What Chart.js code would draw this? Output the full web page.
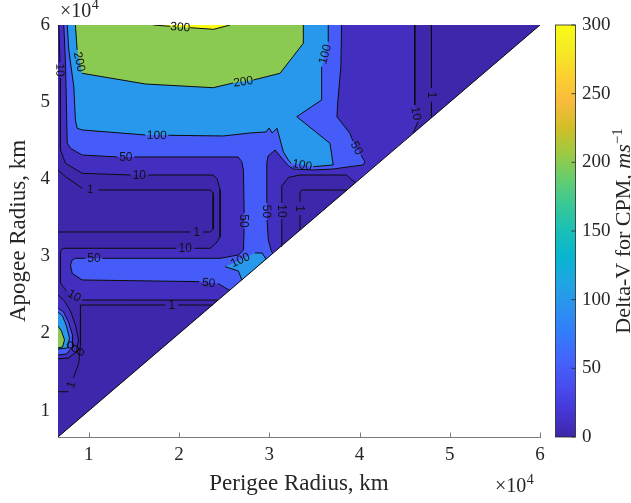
<!DOCTYPE html>
<html lang="en">
<head>
<meta charset="UTF-8">
<title>Delta-V for CPM</title>
<script src="https://cdn.jsdelivr.net/npm/chart.js"></script>
<style>
  html, body { margin: 0; padding: 0; background: #fff; }
  canvas { display: block; }
</style>
</head>
<body>
<canvas id="chart" width="631" height="503"></canvas>
<script>
// axis limits and ticks, in units of 10^4 km
const XMIN = 0.6578;
const XMAX = 6;
const xTicks = [1, 2, 3, 4, 5, 6];
const yTicks = [1, 2, 3, 4, 5, 6];
const cbTicks = [0, 50, 100, 150, 200, 250, 300];
const CB_MAX = 300;

// contour regions, [perigee, apogee] in 10^4 km
const lowLeft10 = [
  [0.6578, 6], [0.667, 6], [0.680, 5.520], [0.683, 5.313], [0.6855, 4.379], [0.741, 4.207], [0.926, 4.077],
  [1.460, 4.055], [1.659, 4.055], [2.378, 4.055], [2.422, 4.003], [2.455, 3.861], [2.455, 3.251], [2.411, 3.173],
  [2.345, 3.105], [2.168, 3.105], [1.969, 3.105], [0.708, 3.105], [0.6855, 3.057], [0.6855, 2.655], [0.752, 2.551],
  [0.926, 2.434], [2.433, 2.433], [0.6578, 0.6578], [0.6578, 6]
];
const lowRight10 = [
  [3.130, 3.130], [3.138, 3.485], [3.138, 3.692], [3.138, 3.9125], [3.211, 4.023], [3.340, 4.055],
  [3.857, 4.055], [3.915, 3.990], [3.959, 3.959], [3.130, 3.130]
];
const lowFar10 = [[4.612, 6], [4.612, 4.963], [4.645, 4.742], [4.595, 4.595], [6, 6], [4.612, 6]];
const band50 = [
  [0.722, 6], [0.741, 5.507], [0.760, 4.470], [0.796, 4.401], [0.926, 4.314], [1.316, 4.289], [1.504, 4.289], [2.654, 4.289],
  [2.695, 4.228], [2.713, 4.120], [2.721, 3.562], [2.721, 3.355], [2.713, 3.083], [2.658, 3.018], [2.455, 2.975], [1.150, 2.975],
  [0.962, 2.975], [0.851, 2.975], [0.815, 2.953], [0.796, 2.888], [0.815, 2.780], [0.926, 2.694], [2.223, 2.672], [2.433, 2.648],
  [2.533, 2.577], [2.560, 2.560], [3.036, 3.036], [3.019, 3.083], [2.989, 3.212], [2.975, 3.472], [2.972, 3.692], [2.972, 4.207],
  [2.986, 4.302], [3.064, 4.379], [3.155, 4.250], [3.211, 4.176], [3.266, 4.133], [3.487, 4.120], [3.708, 4.133], [3.893, 4.163],
  [4.040, 4.185], [4.059, 4.228], [4.015, 4.314], [3.926, 4.496], [3.893, 4.596], [3.749, 4.811], [3.760, 5.028], [3.793, 5.456],
  [3.801, 6], [0.722, 6]
];
const band100 = [
  [0.760, 6], [0.777, 5.676], [0.833, 5.200], [0.851, 4.768], [0.870, 4.661], [0.926, 4.639], [1.626, 4.574], [1.880, 4.570],
  [2.492, 4.561], [2.787, 4.600], [2.964, 4.613], [2.997, 4.665], [3.030, 4.600], [3.086, 4.661], [3.155, 4.357], [3.211, 4.250],
  [3.240, 4.210], [3.487, 4.163], [3.708, 4.185], [3.672, 4.466], [3.304, 4.811], [3.580, 5.028], [3.580, 5.459], [3.653, 5.784],
  [3.653, 6], [0.760, 6]
];
const patch100 = [[2.511, 2.866], [2.842, 3.044], [2.920, 3.044], [2.964, 2.964], [2.695, 2.695], [2.658, 2.810], [2.511, 2.866]];
const band200 = [
  [0.851, 6], [0.870, 5.676], [0.925, 5.374], [1.626, 5.235], [2.378, 5.187], [2.599, 5.248],
  [2.823, 5.287], [3.119, 5.374], [3.377, 5.763], [3.377, 6], [0.851, 6]
];
const band300 = [[1.714, 6], [1.902, 5.983], [2.123, 5.965], [2.381, 5.944], [2.566, 6], [1.714, 6]];
const hot10 = [[0.6578, 2.499], [0.730, 2.420], [0.796, 2.290], [0.851, 2.110], [0.885, 1.916], [0.862, 1.760], [0.774, 1.682], [0.6578, 1.670], [0.6578, 2.499]];
const hot50 = [[0.6578, 2.331], [0.719, 2.279], [0.774, 2.149], [0.818, 1.980], [0.818, 1.825], [0.752, 1.734], [0.6578, 1.721], [0.6578, 2.331]];
const hot100 = [[0.6578, 2.279], [0.708, 2.227], [0.752, 2.097], [0.785, 1.942], [0.763, 1.812], [0.6578, 1.799], [0.6578, 2.279]];
const hot200 = [[0.6578, 2.097], [0.696, 2.032], [0.730, 1.916], [0.708, 1.825], [0.6578, 1.812], [0.6578, 2.097]];

// the level-1 contours (no visible fill change)
const line1a = [[0.6578, 4.120], [0.741, 4.033], [0.926, 3.883], [1.106, 3.861], [2.345, 3.861], [2.378, 3.822],
  [2.378, 3.355], [2.345, 3.316], [2.267, 3.316], [2.123, 3.316], [0.6578, 3.316]];
const line1b = [[2.369, 2.369], [1.991, 2.369], [1.847, 2.369], [0.907, 2.369], [0.907, 1.851], [0.888, 1.614],
  [0.829, 1.423], [0.774, 1.245], [0.6578, 1.245]];
const line1c = [[3.340, 3.340], [3.340, 3.536], [3.340, 3.705], [3.340, 3.835], [3.362, 3.861], [3.860, 3.860]];
const line1d = [[4.797, 6], [4.797, 5.183], [4.797, 5.002], [4.797, 4.797]];
const loopA = [[0.835, 1.851], [0.816, 1.890], [0.777, 1.890], [0.757, 1.851], [0.777, 1.812], [0.816, 1.812], [0.835, 1.851]];
const loopB = [[0.890, 1.799], [0.871, 1.838], [0.832, 1.838], [0.812, 1.799], [0.832, 1.760], [0.871, 1.760], [0.890, 1.799]];
const loopC = [[0.946, 1.760], [0.927, 1.799], [0.888, 1.799], [0.868, 1.760], [0.888, 1.721], [0.927, 1.721], [0.946, 1.760]];

const domain = [[XMIN, XMIN], [XMIN, XMAX], [XMAX, XMAX], [XMIN, XMIN]];

// inline contour labels: text sits on segment `seg` of the contour, which is left open
const contourLabels = [
  { text: '300', on: band300, seg: 1 },
  { text: '200', on: band200, seg: 1 },
  { text: '200', on: band200, seg: 5 },
  { text: '100', on: band100, seg: 6 },
  { text: '100', on: band100, seg: 16 },
  { text: '100', on: band100, seg: 22 },
  { text: '100', on: patch100, seg: 0 },
  { text: '50', on: band50, seg: 5 },
  { text: '50', on: band50, seg: 10 },
  { text: '50', on: band50, seg: 15 },
  { text: '50', on: band50, seg: 22 },
  { text: '50', on: band50, seg: 29 },
  { text: '50', on: band50, seg: 42 },
  { text: '10', on: lowLeft10, seg: 2 },
  { text: '10', on: lowLeft10, seg: 7 },
  { text: '10', on: lowLeft10, seg: 15 },
  { text: '10', on: lowLeft10, seg: 20 },
  { text: '10', on: lowRight10, seg: 1 },
  { text: '10', on: lowFar10, seg: 1 },
  { text: '1', on: line1a, seg: 2 },
  { text: '1', on: line1a, seg: 8 },
  { text: '1', on: line1b, seg: 1 },
  { text: '1', on: line1b, seg: 6 },
  { text: '1', on: line1c, seg: 1 },
  { text: '1', on: line1d, seg: 1 }
];

// parula colormap stops
const PARULA = [
  [0.2422, 0.1504, 0.6603], [0.2706, 0.2147, 0.8364], [0.2813, 0.3006, 0.9414], [0.2699, 0.3892, 0.9906],
  [0.1963, 0.4847, 0.9892], [0.1687, 0.5703, 0.9359], [0.1248, 0.6459, 0.8883], [0.0297, 0.7082, 0.8163],
  [0.0964, 0.7500, 0.7120], [0.2161, 0.7843, 0.5923], [0.3909, 0.8029, 0.4354], [0.6174, 0.7876, 0.2612],
  [0.8203, 0.7498, 0.1535], [0.9728, 0.7298, 0.2394], [0.9892, 0.8136, 0.1885], [0.9597, 0.9135, 0.1423],
  [0.9769, 0.9839, 0.0805]
];
function rgb(c) {
  return 'rgb(' + c.map(v => Math.round(v * 255)).join(',') + ')';
}
function cmap(v) {
  const t = Math.min(Math.max(v / CB_MAX, 0), 1) * (PARULA.length - 1);
  const i = Math.min(Math.floor(t), PARULA.length - 2);
  const f = t - i;
  return rgb(PARULA[i].map((a, k) => a + (PARULA[i + 1][k] - a) * f));
}

const SERIF = '"Liberation Serif", "Times New Roman", serif';
const EPS = 0.002;
function onEdge(p) {
  return p[0] <= XMIN + EPS || p[1] >= XMAX - EPS || Math.abs(p[0] - p[1]) < EPS;
}
function toXY(pts) {
  return pts.map(p => ({ x: p[0], y: p[1] }));
}

const datasets = [];
function addFill(pts, level) {
  datasets.push({
    data: toXY(pts), showLine: true, pointRadius: 0, tension: 0,
    borderColor: 'rgba(0,0,0,0)', borderWidth: 1,
    fill: 'shape', backgroundColor: cmap(level)
  });
}
function addStroke(pts) {
  const gaps = new Set(contourLabels.filter(l => l.on === pts).map(l => l.seg));
  datasets.push({
    data: toXY(pts), showLine: true, pointRadius: 0, tension: 0, fill: false,
    borderColor: '#0d0d0d', borderWidth: 1,
    segment: {
      borderColor: c => (gaps.has(c.p0DataIndex) || (onEdge(pts[c.p0DataIndex]) && onEdge(pts[c.p1DataIndex])))
        ? 'rgba(0,0,0,0)' : undefined
    }
  });
}

addFill(domain, 10);
[[lowLeft10, 1], [lowRight10, 1], [lowFar10, 1], [band50, 50], [band100, 100], [patch100, 100],
 [band200, 200], [band300, 300], [hot10, 10], [hot50, 50], [hot100, 100], [hot200, 200]]
  .forEach(([pts, level]) => addFill(pts, level));
[lowLeft10, lowRight10, lowFar10, band50, band100, patch100, band200, band300, hot10, hot50, hot100, hot200,
 line1a, line1b, line1c, line1d, loopA, loopB, loopC].forEach(addStroke);
// edge of the valid region (apogee = perigee)
datasets.push({
  data: toXY([[XMIN, XMIN], [XMAX, XMAX]]), showLine: true, pointRadius: 0, fill: false,
  borderColor: '#0d0d0d', borderWidth: 1
});
// first pushed is painted first
datasets.forEach((d, i) => { d.order = datasets.length - i; });

function sciLabel(ctx, x, y) {
  ctx.font = '20px ' + SERIF;
  ctx.textAlign = 'left';
  ctx.textBaseline = 'alphabetic';
  ctx.fillText('\u00d710', x, y);
  const w = ctx.measureText('\u00d710').width;
  ctx.font = '14px ' + SERIF;
  ctx.fillText('4', x + w + 0.5, y - 8);
}

const overlay = {
  id: 'overlay',
  afterDatasetsDraw(chart) {
    const { ctx, scales: { x, y } } = chart;
    ctx.save();
    ctx.font = '12px "Liberation Sans", Arial, sans-serif';
    ctx.fillStyle = '#111';
    ctx.textAlign = 'center';
    ctx.textBaseline = 'middle';
    contourLabels.forEach(l => {
      const a = l.on[l.seg], b = l.on[l.seg + 1];
      const x0 = x.getPixelForValue(a[0]), y0 = y.getPixelForValue(a[1]);
      const x1 = x.getPixelForValue(b[0]), y1 = y.getPixelForValue(b[1]);
      let ang = Math.atan2(y1 - y0, x1 - x0);
      if (ang > Math.PI / 2) ang -= Math.PI;
      if (ang <= -Math.PI / 2) ang += Math.PI;
      ctx.save();
      ctx.translate((x0 + x1) / 2, (y0 + y1) / 2);
      ctx.rotate(ang);
      ctx.fillText(l.text, 0, 0.5);
      ctx.restore();
    });
    ctx.restore();
  },
  afterDraw(chart) {
    const { ctx, chartArea: area, scales: { x, cb } } = chart;
    ctx.save();
    // inward tick marks on the x axis
    ctx.strokeStyle = '#7a7a7a';
    ctx.lineWidth = 1;
    xTicks.forEach(v => {
      const px = Math.round(x.getPixelForValue(v)) + 0.5;
      ctx.beginPath();
      ctx.moveTo(px, area.bottom);
      ctx.lineTo(px, area.bottom - 4.5);
      ctx.stroke();
    });

    // colour bar
    const top = cb.getPixelForValue(CB_MAX), bot = cb.getPixelForValue(0);
    const left = 555.5, w = 20;
    const g = ctx.createLinearGradient(0, bot, 0, top);
    PARULA.forEach((c, i) => g.addColorStop(i / (PARULA.length - 1), rgb(c)));
    ctx.fillStyle = g;
    ctx.fillRect(left, top, w, bot - top);
    ctx.strokeStyle = '#262626';
    ctx.lineWidth = 0.8;
    ctx.strokeRect(left, top, w, bot - top);
    cbTicks.forEach(v => {
      const py = cb.getPixelForValue(v);
      ctx.beginPath();
      ctx.moveTo(left + w - 4, py);
      ctx.lineTo(left + w, py);
      ctx.stroke();
    });

    // colour bar title, rotated
    ctx.fillStyle = '#262626';
    ctx.save();
    ctx.translate(630, (area.top + area.bottom) / 2);
    ctx.rotate(-Math.PI / 2);
    const parts = [
      { t: 'Delta-V for CPM, ', f: '22px ' + SERIF, dy: 0 },
      { t: 'ms', f: 'italic 22px ' + SERIF, dy: 0 },
      { t: '\u22121', f: '15px ' + SERIF, dy: -8 }
    ];
    let total = 0;
    parts.forEach(p => { ctx.font = p.f; p.w = ctx.measureText(p.t).width; total += p.w; });
    let cx = -total / 2;
    ctx.textAlign = 'left';
    ctx.textBaseline = 'alphabetic';
    parts.forEach(p => { ctx.font = p.f; ctx.fillText(p.t, cx, p.dy); cx += p.w; });
    ctx.restore();

    // exponent labels
    sciLabel(ctx, 60, 17);
    sciLabel(ctx, 495, 491.5);
    ctx.restore();
  }
};

new Chart(document.getElementById('chart'), {
  type: 'scatter',
  data: { datasets },
  options: {
    responsive: false,
    maintainAspectRatio: false,
    devicePixelRatio: 1,
    animation: false,
    events: [],
    layout: { padding: { top: 25, right: 0, bottom: 0, left: 0 } },
    plugins: { legend: { display: false }, tooltip: { enabled: false } },
    scales: {
      x: {
        type: 'linear', position: 'bottom', min: XMIN, max: XMAX,
        afterBuildTicks: a => { a.ticks = xTicks.map(v => ({ value: v })); },
        afterFit: a => { a.height = 66; a.paddingLeft = 0; a.paddingRight = 0; },
        grid: { display: false, drawTicks: false },
        border: { display: true, color: '#7a7a7a', width: 1 },
        ticks: { color: '#262626', font: { family: SERIF, size: 19 }, padding: 7, maxRotation: 0, autoSkip: false },
        title: { display: true, text: 'Perigee Radius, km', color: '#262626', font: { family: SERIF, size: 23 }, padding: { top: 0, bottom: 5 } }
      },
      y: {
        type: 'linear', position: 'left', min: XMIN, max: XMAX,
        afterBuildTicks: a => { a.ticks = yTicks.map(v => ({ value: v })); },
        afterFit: a => { a.width = 58; a.paddingTop = 0; a.paddingBottom = 0; },
        grid: { display: false, drawTicks: false },
        border: { display: true, color: '#7a7a7a', width: 1 },
        ticks: { color: '#262626', font: { family: SERIF, size: 19 }, padding: 8, autoSkip: false },
        title: { display: true, text: 'Apogee Radius, km', color: '#262626', font: { family: SERIF, size: 23 }, padding: { top: 5.5, bottom: 0 } }
      },
      cb: {
        type: 'linear', position: 'right', min: 0, max: CB_MAX,
        afterBuildTicks: a => { a.ticks = cbTicks.map(v => ({ value: v })); },
        afterFit: a => { a.width = 91; a.paddingTop = 0; a.paddingBottom = 0; },
        grid: { display: false, drawTicks: false },
        border: { display: false },
        ticks: { color: '#262626', font: { family: SERIF, size: 19 }, padding: 42, autoSkip: false }
      }
    }
  },
  plugins: [overlay]
});
</script>
</body>
</html>
